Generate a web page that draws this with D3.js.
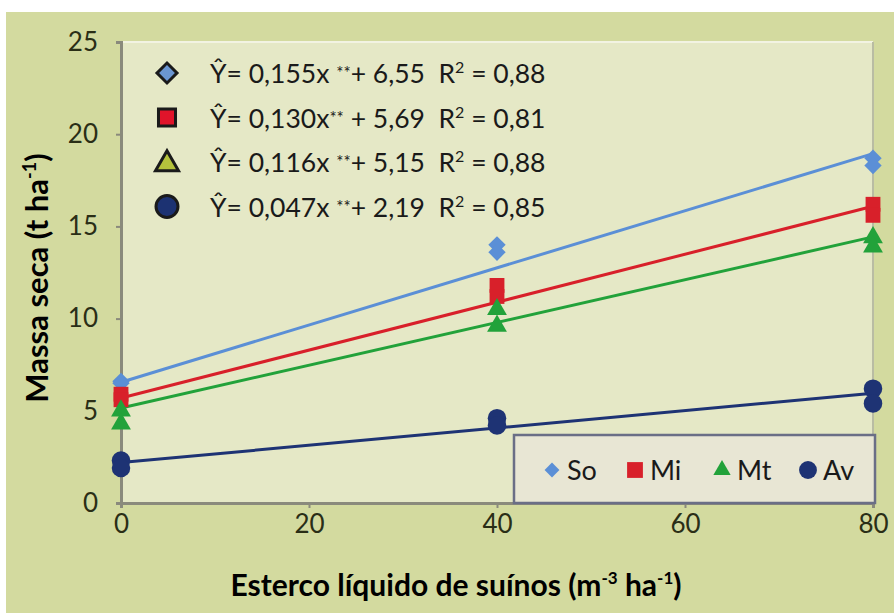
<!DOCTYPE html>
<html>
<head>
<meta charset="utf-8">
<script src="https://cdn.jsdelivr.net/npm/d3@7"></script>
<style>
  html, body { margin: 0; padding: 0; background: #ffffff; }
  svg { display: block; }
  text { white-space: pre; }
</style>
</head>
<body>
<svg id="chart" width="894" height="614"></svg>
<script>
// ---- data ----
const xTicks = [0, 20, 40, 60, 80];
const yTicks = [0, 5, 10, 15, 20, 25];
const seriesNames = ["So", "Mi", "Mt", "Av"];
const doses = [0, 0, 40, 40, 80, 80];
const soValues = [6.6, 6.5, 14.0, 13.6, 18.7, 18.3];
const miValues = [5.9, 5.6, 11.8, 11.2, 16.2, 15.6];
const mtValues = [5.0, 4.3, 10.5, 9.6, 14.4, 13.9];
const avValues = [2.3, 1.9, 4.6, 4.2, 6.2, 5.4];
const slopes = [0.155, 0.130, 0.116, 0.047];
const intercepts = [6.55, 5.69, 5.15, 2.19];
const slopeTexts = ["0,155x ", "0,130x", "0,116x ", "0,047x "];
const interceptTexts = ["+ 6,55", " + 5,69", "+ 5,15", "+ 2,19"];
const r2Texts = ["0,88", "0,81", "0,88", "0,85"];
const xTitle = "Esterco líquido de suínos (m";
const yTitle = "Massa seca (t ha";

// ---- styles ----
const colors = ["#5b8fd6", "#d8202a", "#22a23a", "#1e3374"];
const eqFill = ["#6a96d2", "#e0142a", "#b4c23c", "#1c3272"];
const seriesValues = [soValues, miValues, mtValues, avValues];

const svg = d3.select("#chart");
const W = 894, H = 614;

// outer panel
svg.append("rect").attr("x", 6).attr("y", 12).attr("width", W - 6).attr("height", H - 13)
  .attr("fill", "#d3da9f");

const pLeft = 121, pRight = 873, pTop = 42, pBottom = 503;
const x = d3.scaleLinear().domain([0, 80]).range([pLeft, pRight]);
const y = d3.scaleLinear().domain([0, 25]).range([pBottom, pTop]);

// plot area
svg.append("rect").attr("x", pLeft).attr("y", pTop).attr("width", pRight - pLeft).attr("height", pBottom - pTop)
  .attr("fill", "#e5e8c6");
svg.append("line").attr("x1", pLeft).attr("x2", pRight).attr("y1", pTop).attr("y2", pTop)
  .attr("stroke", "#f2f3e2").attr("stroke-width", 2);
svg.append("line").attr("x1", pRight).attr("x2", pRight).attr("y1", pTop).attr("y2", pBottom)
  .attr("stroke", "#b9bca3").attr("stroke-width", 2);

// axes
const xAxis = d3.axisBottom(x).tickValues(xTicks).tickSize(5).tickPadding(7);
const yAxis = d3.axisLeft(y).tickValues(yTicks).tickSize(5).tickPadding(18);

const gx = svg.append("g").attr("transform", `translate(0,${pBottom})`).call(xAxis);
const gy = svg.append("g").attr("transform", `translate(${pLeft},0)`).call(yAxis);
[gx, gy].forEach(g => {
  g.select(".domain").attr("stroke", "#8a8a7c").attr("stroke-width", 3);
  g.selectAll(".tick line").attr("stroke", "#8a8a7c").attr("stroke-width", 2);
  g.selectAll(".tick text").attr("fill", "#2a2e16").attr("font-family", "Lato, sans-serif")
    .attr("font-size", 26);
});

// regression lines
seriesNames.forEach((s, i) => {
  svg.append("line")
    .attr("x1", x(0)).attr("y1", y(intercepts[i]))
    .attr("x2", x(80)).attr("y2", y(intercepts[i] + slopes[i] * 80))
    .attr("stroke", colors[i]).attr("stroke-width", 3);
});

// markers
const symbolFor = i => [d3.symbolSquare, d3.symbolSquare, d3.symbolTriangle, d3.symbolCircle][i];
const sizeFor = [150, 220, 170, 270];
seriesNames.forEach((s, i) => {
  const vals = seriesValues[i];
  svg.append("g").selectAll("path").data(vals).join("path")
    .attr("d", d3.symbol().type(symbolFor(i)).size(sizeFor[i]))
    .attr("transform", (d, j) => `translate(${x(doses[j])},${y(d)})` + (i === 0 ? " rotate(45)" : ""))
    .attr("fill", colors[i]);
});

// equation legend
const eqX = 167, eqY0 = 73, eqDy = 44.5;
const eqSym = [
  { t: d3.symbolSquare, s: 200, r: 45 },
  { t: d3.symbolSquare, s: 290, r: 0 },
  { t: d3.symbolTriangle, s: 230, r: 0 },
  { t: d3.symbolCircle, s: 380, r: 0 }
];
seriesNames.forEach((s, i) => {
  const cy = eqY0 + i * eqDy;
  svg.append("path")
    .attr("d", d3.symbol().type(eqSym[i].t).size(eqSym[i].s))
    .attr("transform", `translate(${eqX},${cy + (i === 2 ? 2 : 0)}) rotate(${eqSym[i].r})`)
    .attr("fill", eqFill[i]).attr("stroke", "#1a1a1a").attr("stroke-width", 3);
  const t = svg.append("text").attr("x", 210).attr("y", cy + 10)
    .attr("font-family", "Lato, sans-serif").attr("font-size", 26.5).attr("fill", "#1a1a1a");
  t.append("tspan").text("Ŷ= " + slopeTexts[i]);
  t.append("tspan").attr("font-size", 17).attr("dy", -4).text("**");
  t.append("tspan").attr("dy", 4).text(interceptTexts[i] + "  R");
  t.append("tspan").attr("font-size", 16).attr("dy", -10).text("2");
  t.append("tspan").attr("dy", 10).text(" = " + r2Texts[i]);
});

// bottom legend
const lg = svg.append("g");
lg.append("rect").attr("x", 514).attr("y", 435).attr("width", 361).attr("height", 68)
  .attr("fill", "#e8e6d4").attr("stroke", "#6a6e86").attr("stroke-width", 2.5);
const lgX = [552, 635, 722, 808];
const lgSym = [
  { t: d3.symbolSquare, s: 110, r: 45 },
  { t: d3.symbolSquare, s: 250, r: 0 },
  { t: d3.symbolTriangle, s: 130, r: 0 },
  { t: d3.symbolCircle, s: 250, r: 0 }
];
seriesNames.forEach((s, i) => {
  lg.append("path")
    .attr("d", d3.symbol().type(lgSym[i].t).size(lgSym[i].s))
    .attr("transform", `translate(${lgX[i]},470) rotate(${lgSym[i].r})`)
    .attr("fill", colors[i]);
  lg.append("text").attr("x", lgX[i] + 15).attr("y", 480)
    .attr("font-family", "Lato, sans-serif").attr("font-size", 27).attr("fill", "#1a1a1a").text(s);
});

// axis titles
const xt = svg.append("text").attr("x", 456).attr("y", 596).attr("text-anchor", "middle")
  .attr("font-family", "Lato, sans-serif").attr("font-weight", "bold").attr("font-size", 30)
  .attr("fill", "#000");
xt.append("tspan").text(xTitle);
xt.append("tspan").attr("font-size", 17).attr("dy", -12).text("-3");
xt.append("tspan").attr("dy", 12).text(" ha");
xt.append("tspan").attr("font-size", 17).attr("dy", -12).text("-1");
xt.append("tspan").attr("dy", 12).text(")");

const yt = svg.append("text").attr("transform", "translate(48,278) rotate(-90)").attr("text-anchor", "middle")
  .attr("font-family", "Lato, sans-serif").attr("font-weight", "bold").attr("font-size", 31)
  .attr("fill", "#000");
yt.append("tspan").text(yTitle);
yt.append("tspan").attr("font-size", 18).attr("dy", -12).text("-1");
yt.append("tspan").attr("dy", 12).text(")");
</script>
</body>
</html>
